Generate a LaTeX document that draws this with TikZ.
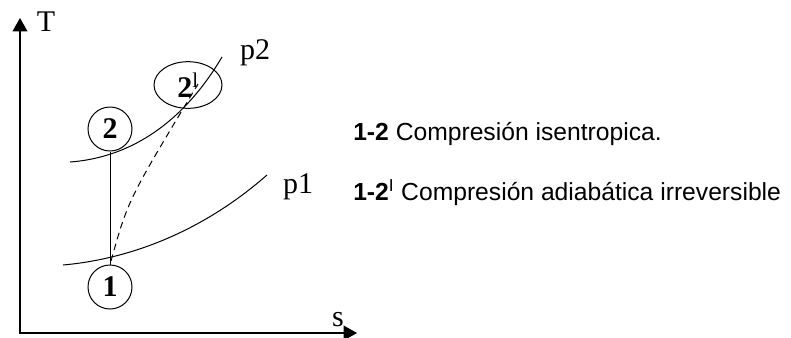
\documentclass[tikz,border=0pt]{standalone}
\usepackage{fontspec}
\setmainfont{Liberation Serif}
\newfontfamily\arialfont{Liberation Sans}
\usetikzlibrary{arrows.meta,shapes.geometric}

\begin{document}
\begin{tikzpicture}[x=0.75pt,y=-0.75pt,
  axis/.style={line width=1.1pt,-{Triangle[width=11pt,length=10pt]}},
  curve/.style={line width=0.75pt},
  lbl/.style={font=\fontsize{22.5}{26}\selectfont,inner sep=0pt},
  pnt/.style={draw,circle,line width=0.75pt,minimum size=33pt,inner sep=0pt,font=\fontsize{22.5}{26}\selectfont\bfseries},
  txt/.style={anchor=base west,inner sep=0pt,font=\arialfont\fontsize{18.5}{22}\selectfont}]
  \useasboundingbox (0,0) rectangle (791,337);
  % axes
  \coordinate (o) at (20,333);
  \coordinate (tmax) at (20,18);
  \coordinate (smax) at (357,333);
  \draw[axis] (o) -- (tmax);
  \draw[axis] ([xshift=-0.55pt]o) -- (smax);
  \node[lbl] (tlbl) at (46,22) {T};
  \node[lbl] (slbl) at (338,320) {s};
  % isobars
  \draw[curve] (70,162) .. controls (125,158) and (180,128) .. (222,57);
  \draw[curve] (63,265) .. controls (140,258) and (210,225) .. (267,175);
  \node[lbl] (p2) at (255,53) {p2};
  \node[lbl] (p1) at (298,187) {p1};
  % states
  \node[pnt] (c1) at (110,287) {1};
  \node[pnt] (c2) at (110,129) {2};
  \node[pnt,ellipse,minimum width=51pt,minimum height=35pt] (c2p) at (188,85) {2\textsuperscript{\mdseries l}};
  \coordinate (a1) at (111,261);
  \coordinate (a2) at (198,84);
  \draw[curve] (c1.north) -- (c2.south);
  \draw[curve,dashed,dash pattern=on 5pt off 3.5pt] (a1) .. controls (128,200) .. (a2);
  % legend
  \node[txt] (l1) at (353,140) {{\bfseries 1-2} Compresión isentropica.};
  \node[txt] (l2) at (353,200) {{\bfseries 1-2}\textsuperscript{I} Compresión adiabática irreversible};
\end{tikzpicture}
\end{document}
